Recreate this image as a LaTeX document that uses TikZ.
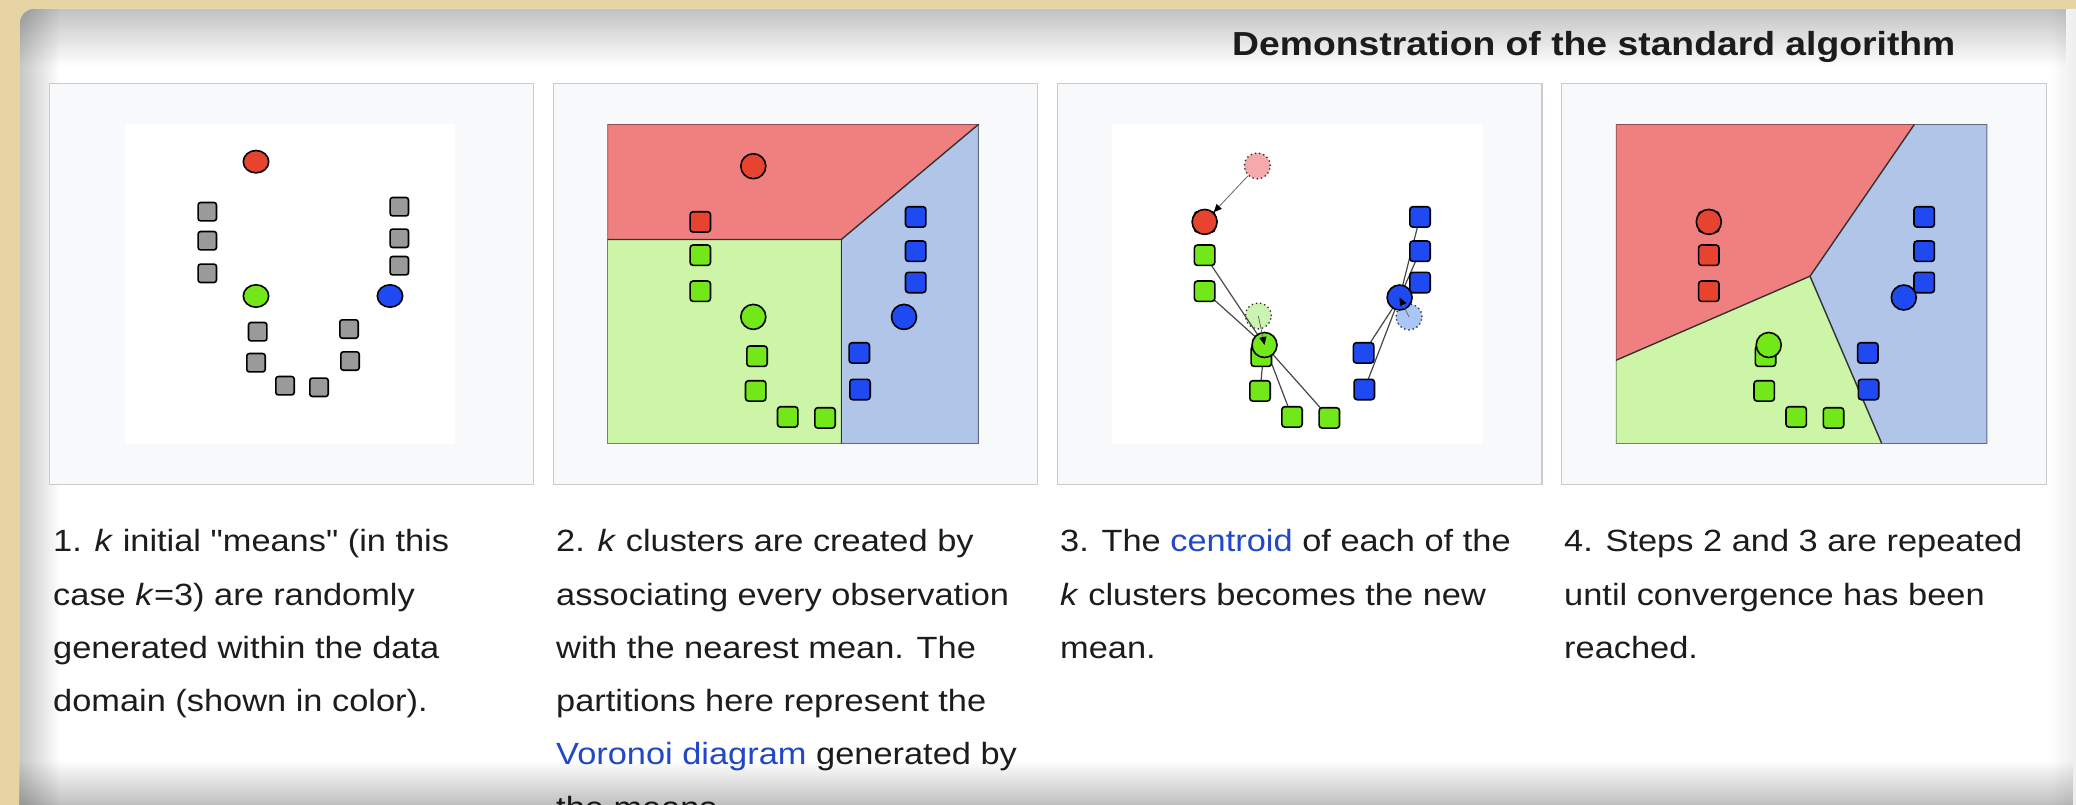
\documentclass[tikz,border=0pt]{standalone}
\usepackage{fontspec}
\setmainfont{Liberation Sans}[FakeStretch=1.12, Ligatures=TeXOff]
\usetikzlibrary{fadings,arrows.meta,shapes.geometric}

% palette
\definecolor{paper}{HTML}{E7D4A5}
\definecolor{panelbg}{HTML}{F8F9FA}
\definecolor{panelrule}{HTML}{C8CCD1}
\definecolor{ptred}{HTML}{E8432E}
\definecolor{ptgreen}{HTML}{72E81A}
\definecolor{ptblue}{HTML}{1F4AF2}
\definecolor{ptgrey}{HTML}{9A9A9A}
\definecolor{regred}{HTML}{F07F80}
\definecolor{reggreen}{HTML}{CCF5A8}
\definecolor{regblue}{HTML}{B0C5E8}
\definecolor{oldred}{HTML}{F4A9AA}
\definecolor{oldgreen}{HTML}{CDF3B2}
\definecolor{oldblue}{HTML}{A9C7F5}
\definecolor{linkblue}{HTML}{2148C6}
\definecolor{ink}{HTML}{1C1C1C}

% soft inner shadows of the card
\tikzfading[name=shadeTop, top color=transparent!0, bottom color=transparent!100]
\tikzfading[name=shadeBot, top color=transparent!100, bottom color=transparent!0]
\tikzfading[name=shadeLeft, left color=transparent!0, right color=transparent!100]
\tikzfading[name=shadeRight, left color=transparent!100, right color=transparent!0]

% drawing layers: card and frames, then connector lines, then marks and text
\pgfdeclarelayer{back}
\pgfdeclarelayer{links}
\pgfsetlayers{back,links,main}

\tikzset{
  panel/.style={draw=panelrule, fill=panelbg, line width=1.3pt, inner sep=0pt,
    anchor=north west, minimum width=484.5pt, minimum height=401pt},
  dot/.style={draw=black, line width=1.6pt, inner sep=0pt},
  sq/.style={dot, rectangle, rounded corners=3pt, minimum size=20.4pt},
  sqsmall/.style={dot, rectangle, rounded corners=2.5pt, minimum size=18.4pt},
  mean/.style={dot, circle, minimum size=25pt},
  meansmall/.style={dot, ellipse, minimum width=25.4pt, minimum height=22.4pt},
  oldmean/.style={circle, minimum size=26pt, inner sep=0pt, draw=black!85,
    line width=1.3pt, dash pattern=on 1.3pt off 3pt},
  member/.style={draw=black!72, line width=1.2pt},
  meanshift/.style={draw=black!60, line width=0.8pt,
    -{Triangle[length=8pt,width=7pt,color=black]}},
  cellborder/.style={draw=black!80, line width=1.3pt},
  captext/.style={anchor=base west, inner sep=0pt, text=ink,
    font=\fontsize{30.7}{36}\selectfont},
  titletext/.style={anchor=base west, inner sep=0pt, text=ink,
    font=\bfseries\fontsize{33.3}{40}\selectfont},
}

% one caption, one node per line
\newcommand\captionlines[3]{%
  \foreach \txt [count=\n from 0] in {#3} {
    \node[captext] (#1-\n) at ({#2},{551.7+53.3*\n}) {\txt};
  }}

% the twelve observations of panels 2--4: name/x/y/colour
\newcommand\observations[2]{%
  \foreach \nm/\px/\py/\pc in {#2} {
    \node[sq, fill=\pc] (#1\nm) at (\px,\py) {};
  }}

\begin{document}
\begin{tikzpicture}[x=1pt,y=-1pt]
\useasboundingbox (0,0) rectangle (2076,805);

\begin{pgfonlayer}{back}
  % paper and card
  \fill[paper] (0,0) rectangle (2076,805);
  \begin{scope}
    \clip[rounded corners=14pt] (20,9) rectangle (2130,880);
    \fill[white] (0,0) rectangle (2076,805);
    \fill[black, opacity=0.24, path fading=shadeTop] (0,9) rectangle (2076,66);
    \fill[black, opacity=0.22, path fading=shadeLeft] (20,0) rectangle (60,805);
    \fill[black, opacity=0.07, path fading=shadeRight] (2050,0) rectangle (2076,805);
  \end{scope}

  % frames
  \node[panel] (box1) at (48.5,83) {};
  \node[panel] (box2) at (552.5,83) {};
  \node[panel] (box3) at (1056.7,83) {};
  \node[panel] (box4) at (1561,83) {};

  % plot area of panel 3 with the previous means
  \begin{scope}[shift={(1112,124.5)}]
    \fill[white] (0,0) rectangle (370.6,319);
    \node[oldmean, fill=oldred] (cRold) at (145.3,41.4) {};
    \node[oldmean, fill=oldgreen] (cGold) at (146.3,191.4) {};
    \node[oldmean, fill=oldblue] (cBold) at (297,192.4) {};
  \end{scope}
\end{pgfonlayer}

% heading
\node[titletext] (title) at (1232,56) {Demonstration of the standard algorithm};

% ---------- 1. initial means ----------
\begin{scope}[shift={(125,124.5)}]
  \fill[white] (0,0) rectangle (330,319);
  \foreach \nm/\px/\py in {1/82.3/87.2, 2/82.3/116.2, 3/82.3/148.8,
      4/274.3/82.2, 5/274.3/113.8, 6/274.3/141.2,
      7/132.7/207.2, 8/131/238.2, 9/160/261.2, 10/194/262.8,
      11/224/204.5, 12/225/236.5} {
    \node[sqsmall, fill=ptgrey] (a\nm) at (\px,\py) {};
  }
  \node[meansmall, fill=ptred] (aR) at (131,37.2) {};
  \node[meansmall, fill=ptgreen] (aG) at (131,171.5) {};
  \node[meansmall, fill=ptblue] (aB) at (265,171.5) {};
\end{scope}

% ---------- 2. assignment ----------
\begin{scope}[shift={(607.7,124.5)}]
  \filldraw[fill=regred, draw=regred!60!black, line width=0.9pt]
    (0,0) -- (370.6,0) -- (233.6,115) -- (0,115) -- cycle;
  \filldraw[fill=reggreen, draw=reggreen!55!black, line width=0.9pt]
    (0,115) -- (233.6,115) -- (233.6,319) -- (0,319) -- cycle;
  \filldraw[fill=regblue, draw=regblue!55!black, line width=0.9pt]
    (233.6,115) -- (370.6,0) -- (370.6,319) -- (233.6,319) -- cycle;
  \draw[cellborder] (0,115) -- (233.6,115) -- (370.6,0);
  \draw[cellborder] (233.6,115) -- (233.6,319);
  \observations{b}{1/92.6/97.4/ptred, 2/92.6/130.7/ptgreen, 3/92.6/166.7/ptgreen,
    4/149.3/231.7/ptgreen, 5/148/266.4/ptgreen, 6/180/292.4/ptgreen,
    7/217.3/293.4/ptgreen, 8/308/92.4/ptblue, 9/308/126.7/ptblue,
    10/308/158/ptblue, 11/251.6/228.4/ptblue, 12/252.3/265/ptblue}
  \node[mean, fill=ptred] (bR) at (145.6,41.7) {};
  \node[mean, fill=ptgreen] (bG) at (145.6,192.4) {};
  \node[mean, fill=ptblue] (bB) at (296.3,192.4) {};
\end{scope}

% ---------- 3. update ----------
\begin{scope}[shift={(1112,124.5)}]
  \observations{c}{1/92.6/97.4/ptred, 2/92.6/130.7/ptgreen, 3/92.6/166.7/ptgreen,
    4/149.3/231.7/ptgreen, 5/148/266.4/ptgreen, 6/180/292.4/ptgreen,
    7/217.3/293.4/ptgreen, 8/308/92.4/ptblue, 9/308/126.7/ptblue,
    10/308/158/ptblue, 11/251.6/228.4/ptblue, 12/252.3/265/ptblue}
  \node[mean, fill=ptred] (cR) at (92.6,97.4) {};
  \node[mean, fill=ptgreen] (cG) at (152.5,220.5) {};
  \node[mean, fill=ptblue] (cB) at (287.6,173) {};
  \begin{pgfonlayer}{links}
    \foreach \k in {2,...,7} { \draw[member] (cG.center) -- (c\k.center); }
    \foreach \k in {8,...,12} { \draw[member] (cB.center) -- (c\k.center); }
  \end{pgfonlayer}
  \draw[meanshift] (cRold) -- (cR);
  \draw[meanshift] (cGold.center) -- (cG.center);
  \draw[meanshift] (cBold.center) -- (cB.center);
\end{scope}

% ---------- 4. after convergence ----------
\begin{scope}[shift={(1616.2,124.5)}]
  \filldraw[fill=regred, draw=regred!60!black, line width=0.9pt]
    (0,0) -- (298.1,0) -- (193.8,151.7) -- (0,235.7) -- cycle;
  \filldraw[fill=regblue, draw=regblue!55!black, line width=0.9pt]
    (298.1,0) -- (370.6,0) -- (370.6,319) -- (265.5,319) -- (193.8,151.7) -- cycle;
  \filldraw[fill=reggreen, draw=reggreen!55!black, line width=0.9pt]
    (0,235.7) -- (193.8,151.7) -- (265.5,319) -- (0,319) -- cycle;
  \draw[cellborder] (298.1,0) -- (193.8,151.7) -- (0,235.7);
  \draw[cellborder] (193.8,151.7) -- (265.5,319);
  \observations{d}{1/92.6/97.4/ptred, 2/92.6/130.7/ptred, 3/92.6/166.7/ptred,
    4/149.3/231.7/ptgreen, 5/148/266.4/ptgreen, 6/180/292.4/ptgreen,
    7/217.3/293.4/ptgreen, 8/308/92.4/ptblue, 9/308/126.7/ptblue,
    10/308/158/ptblue, 11/251.6/228.4/ptblue, 12/252.3/265/ptblue}
  \node[mean, fill=ptred] (dR) at (92.6,97.4) {};
  \node[mean, fill=ptgreen] (dG) at (152.5,220.5) {};
  \node[mean, fill=ptblue] (dB) at (287.6,173) {};
\end{scope}

% captions
\captionlines{capA}{53}{{1. \textit{k} initial "means" (in this},
  {case \textit{k}=3) are randomly},
  {generated within the data},
  {domain (shown in color).}}
\captionlines{capB}{556}{{2. \textit{k} clusters are created by},
  {associating every observation},
  {with the nearest mean. The},
  {partitions here represent the},
  {\textcolor{linkblue}{Voronoi diagram} generated by},
  {the means.}}
\captionlines{capC}{1060}{{3. The \textcolor{linkblue}{centroid} of each of the},
  {\textit{k} clusters becomes the new},
  {mean.}}
\captionlines{capD}{1564}{{4. Steps 2 and 3 are repeated},
  {until convergence has been},
  {reached.}}

% bottom shadow of the card
\fill[black, opacity=0.25, path fading=shadeBot] (20,760) rectangle (2076,805);
\end{tikzpicture}
\end{document}
